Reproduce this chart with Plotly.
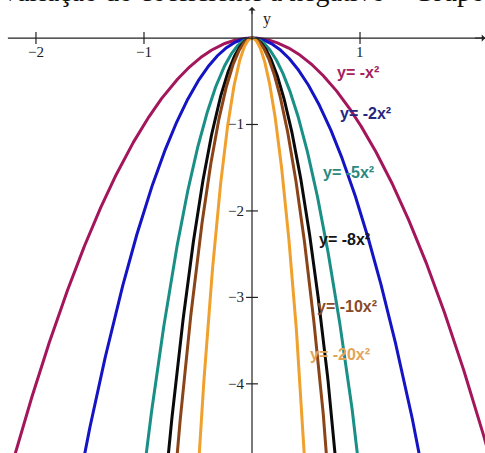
import numpy as np
import plotly.graph_objects as go

# Parabolas y = -a x^2 for several negative leading coefficients
coefficients = [1, 2, 5, 8, 10, 20]
curve_labels = ["y= -x²", "y= -2x²", "y= -5x²", "y= -8x²", "y= -10x²", "y= -20x²"]
curve_colors = ["#a3165c", "#1414c4", "#198f86", "#0a0a0a", "#8a4418", "#f0a02c"]
label_colors = ["#a3225e", "#262680", "#2a8a80", "#151515", "#8a4a2a", "#e3a458"]
# label anchor points (x, y) in axis units
label_x = [0.77, 0.80, 0.64, 0.60, 0.58, 0.52]
label_y = [-0.40, -0.87, -1.56, -2.33, -3.10, -3.66]

x_ticks = [-2, -1, 1]
x_tick_text = ["\u22122", "\u22121", "1"]
y_ticks = [-1, -2, -3, -4]
y_tick_text = ["\u22121", "\u22122", "\u22123", "\u22124"]

title_text = "Variação do coeficiente a negativo – Grupo 1"

X_RANGE = [-2.333, 2.157]
Y_RANGE = [-4.80, 0.44]

fig = go.Figure()

xs = np.linspace(-2.4, 2.4, 1201)
for a, name, col in zip(coefficients, curve_labels, curve_colors):
    fig.add_trace(go.Scatter(
        x=xs, y=-a * xs ** 2, mode="lines", name=name,
        line=dict(color=col, width=3), hoverinfo="skip",
    ))

# coordinate axes drawn through the origin
fig.add_shape(type="line", x0=-2.26, x1=2.2, y0=0, y1=0,
              line=dict(color="#222", width=1.2))
fig.add_shape(type="line", x0=0, x1=0, y0=-5, y1=0.33,
              line=dict(color="#222", width=1.2))
# arrowheads
fig.add_annotation(x=0, y=0.36, ax=0, ay=0.26, xref="x", yref="y",
                   axref="x", ayref="y", showarrow=True, arrowhead=1,
                   arrowsize=1.2, arrowwidth=1, arrowcolor="#222", text="")
fig.add_annotation(x=2.16, y=0, ax=2.05, ay=0, xref="x", yref="y",
                   axref="x", ayref="y", showarrow=True, arrowhead=1,
                   arrowsize=1.2, arrowwidth=1, arrowcolor="#222", text="")

# tick marks and labels
for t, s in zip(x_ticks, x_tick_text):
    fig.add_shape(type="line", x0=t, x1=t, y0=-0.07, y1=0.07,
                  line=dict(color="#222", width=1.2))
    fig.add_annotation(x=t, y=-0.16, text=s, showarrow=False,
                       font=dict(family="Liberation Serif", size=15, color="#222"))
for t, s in zip(y_ticks, y_tick_text):
    fig.add_shape(type="line", x0=-0.055, x1=0.055, y0=t, y1=t,
                  line=dict(color="#222", width=1.2))
    fig.add_annotation(x=-0.06, y=t, text=s, showarrow=False, xanchor="right",
                       font=dict(family="Liberation Serif", size=15, color="#222"))

fig.add_annotation(x=0.08, y=0.22, text="y", showarrow=False, xanchor="left",
                   font=dict(family="Liberation Serif", size=16, color="#222"))
fig.add_annotation(x=2.14, y=0.16, text="x", showarrow=False, xanchor="left",
                   font=dict(family="Liberation Serif", size=15, color="#222"))

# curve labels
for name, lx, ly, col in zip(curve_labels, label_x, label_y, label_colors):
    fig.add_annotation(x=lx, y=ly, text="<b>" + name + "</b>", showarrow=False,
                       xanchor="left",
                       font=dict(family="Liberation Sans", size=16, color=col))

fig.add_annotation(x=0, y=1, xref="paper", yref="paper", xanchor="left",
                   yanchor="middle", yshift=9, xshift=-2, text=title_text,
                   showarrow=False,
                   font=dict(family="Liberation Serif", size=28, color="#111"))

fig.update_layout(
    width=485, height=453,
    margin=dict(l=0, r=0, t=0, b=0),
    paper_bgcolor="white", plot_bgcolor="white",
    showlegend=False,
    xaxis=dict(range=X_RANGE, visible=False, fixedrange=True),
    yaxis=dict(range=Y_RANGE, visible=False, fixedrange=True),
)

fig.write_html("out.html")
